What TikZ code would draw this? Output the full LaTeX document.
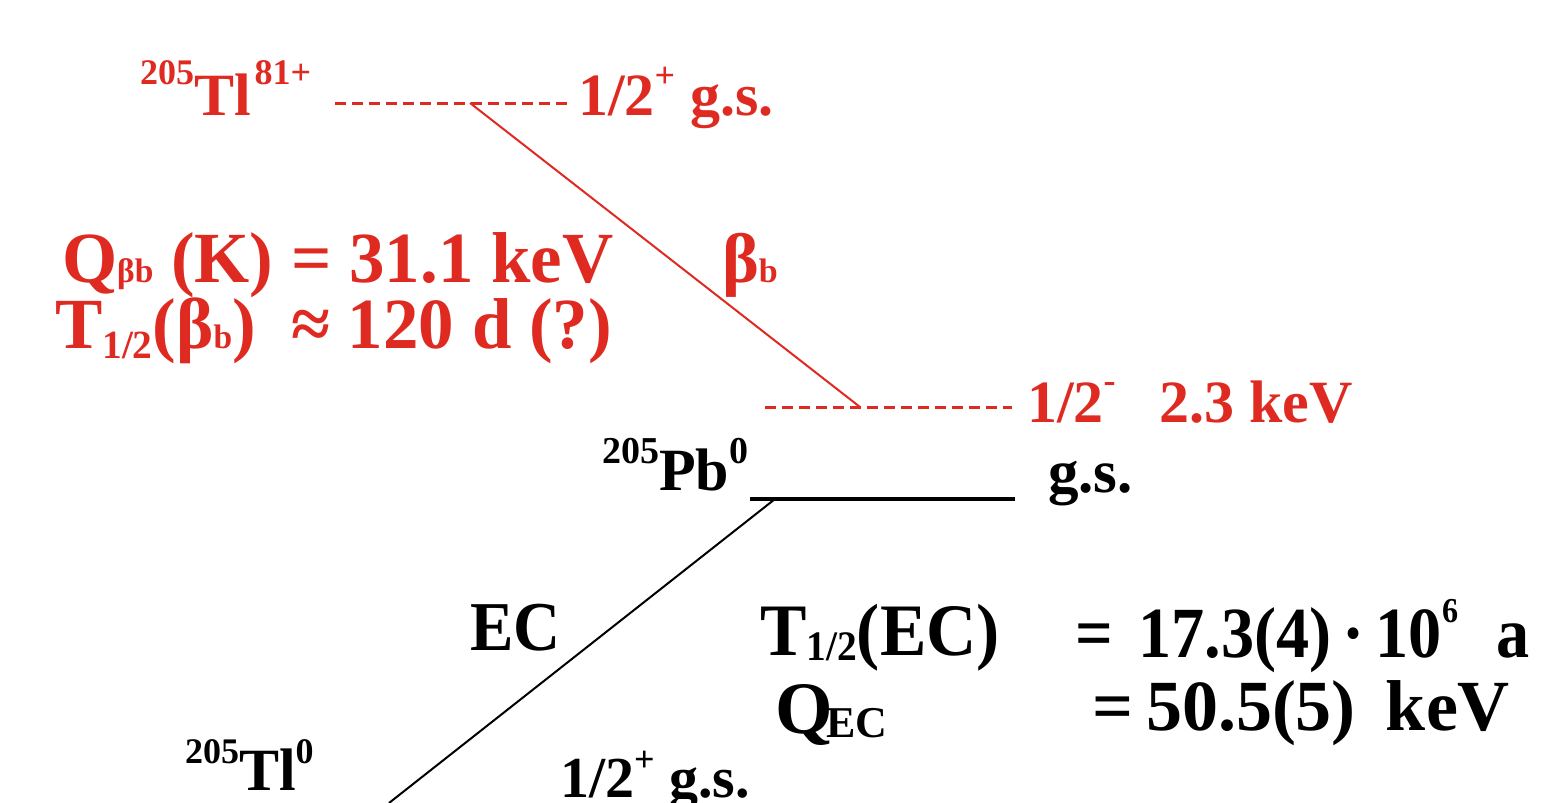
\documentclass[tikz,border=0pt]{standalone}
\usepackage{fontspec}
\setmainfont{Liberation Serif}
\definecolor{redc}{RGB}{222,42,32}
\newcommand\fs[1]{\fontsize{#1}{#1}\selectfont\bfseries}
\newcommand\hi[3]{\raisebox{#2pt}{\fontsize{#1}{#1}\selectfont #3}}
\newcommand\lo[3]{\raisebox{-#2pt}{\fontsize{#1}{#1}\selectfont #3}}
\begin{document}
\begin{tikzpicture}[x=1pt,y=-1pt,
  lbl/.style={anchor=base west, inner sep=0pt, outer sep=0pt},
  rlbl/.style={lbl, text=redc},
  redlevel/.style={draw=redc, line width=3pt, dash pattern=on 11pt off 6pt},
  blacklevel/.style={draw=black, line width=3.5pt},
  redtrans/.style={draw=redc, line width=2pt},
  blacktrans/.style={draw=black, line width=2pt}]
\useasboundingbox (0,0) rectangle (1542,803);
\clip (0,0) rectangle (1542,803);
% coordinates
\coordinate (tlA) at (335,103);
\coordinate (tlB) at (570,103);
\coordinate (pbxA) at (765,407);
\coordinate (pbxB) at (1012,407);
\coordinate (pbA) at (750,499);
\coordinate (pbB) at (1015,499);
\coordinate (btop) at (470,103);
\coordinate (bbot) at (860,407);
\coordinate (ectop) at (775,499);
\coordinate (ecbot) at (389,803);
% levels and transitions
\draw[redlevel] (tlA) -- (tlB);
\draw[redlevel] (pbxA) -- (pbxB);
\draw[blacklevel] (pbA) -- (pbB);
\draw[redtrans] (btop) -- (bbot);
\draw[blacktrans] (ectop) -- (ecbot);
% labels
\node[rlbl] (tl81) at (140,115) {\fs{60}\hi{36}{31}{205}Tl\kern4pt\hi{36}{31}{81+}};
\node[rlbl] (tl81js) at (578,115) {\fs{60}1/2\hi{36}{28}{+} g.s.};
\node[rlbl] (qbb) at (62,282) {\fs{72}\scalebox{0.985}[1]{Q\lo{34}{0}{βb} (K) = 31.1 keV}};
\node[rlbl] (bb) at (722,282) {\fs{70}β\lo{34}{0}{b}};
\node[rlbl] (tbb) at (55,348) {\fs{72}\scalebox{0.985}[1]{T\lo{40}{10}{1/2}(β\lo{34}{0}{b})\ \ ≈ 120 d (?)}};
\node[rlbl] (pbxjs) at (1027,422) {\fs{60}1/2\hi{36}{30}{-}\hspace{44pt}2.3 keV};
\node[lbl] (pb) at (602,490) {\fs{60}\hi{38}{27}{205}Pb\hi{38}{27}{0}};
\node[lbl] (pbjs) at (1048,492) {\fs{61}g.s.};
\node[lbl] (ec) at (470,650) {\fs{70}\scalebox{0.93}[1]{EC}};
\node[lbl] (tec) at (760,655) {\fs{74}\scalebox{0.94}[1]{T\lo{42}{5}{1/2}(EC)}};
\node[lbl] (tecv) at (1075,657) {\fs{72}\scalebox{0.92}[1]{=\hspace{28pt}17.3(4)\,·\,10\hi{35}{35}{6}\hspace{42pt}a}};
\node[lbl] (qec) at (775,733) {\fs{74}Q\kern-6pt\lo{44}{4}{EC}};
\node[lbl] (qecv) at (1092,730) {\fs{72}=\hspace{13pt}50.5(5)\hspace{30pt}keV};
\node[lbl] (tl0) at (185,790) {\fs{60}\hi{36}{27}{205}Tl\hi{36}{27}{0}};
\node[lbl] (tl0js) at (560,797) {\fs{58}1/2\hi{36}{26}{+} g.s.};
\end{tikzpicture}
\end{document}
